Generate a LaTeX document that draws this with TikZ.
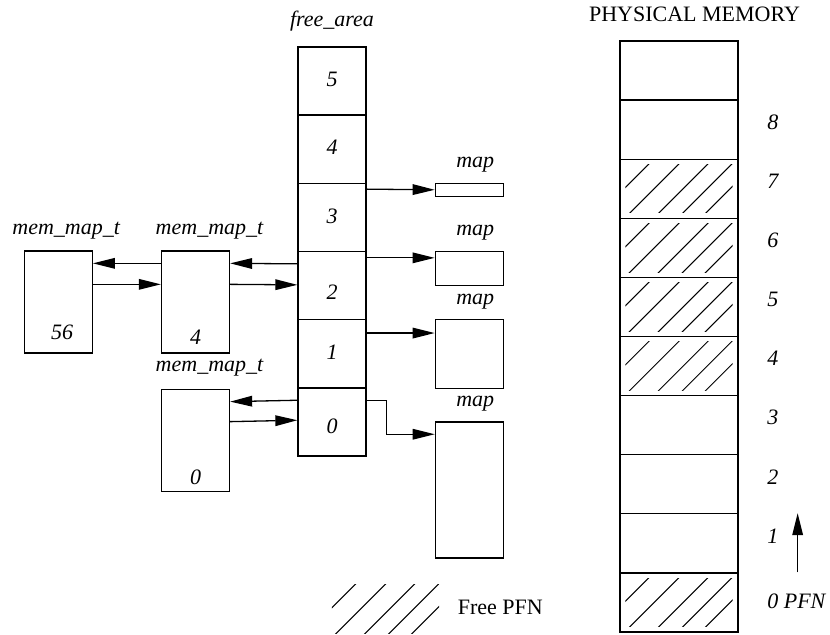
\documentclass[tikz,border=0pt]{standalone}
\usepackage{fontspec}
\setmainfont{Liberation Serif}
\usetikzlibrary{positioning,arrows.meta,calc}
\tikzstyle{slot} = [draw, minimum width=34pt, minimum height=34.1pt, inner sep=0pt]
\tikzstyle{memmap} = [draw, minimum width=34pt, minimum height=51pt, inner sep=0pt]
\tikzstyle{mapbox} = [draw, minimum width=34pt, inner sep=0pt, anchor=north west]
\tikzstyle{pfnbox} = [draw, minimum width=59pt, minimum height=29.55pt, inner sep=0pt]
\tikzstyle{lab} = [font=\fontsize{11}{13}\selectfont\itshape, inner sep=0pt, text height=1.5ex, text depth=.25ex]
\tikzstyle{txt} = [font=\fontsize{11}{13}\selectfont, inner sep=0pt, text height=1.5ex, text depth=.25ex]
\tikzstyle{ptr} = [-{Triangle[length=11pt,width=5.3pt]}]

% diagonal hatching inside a box
\newcommand{\hatchbox}[1]{%
  \begin{scope}
    \clip ($(#1.north west)+(6,6)$) rectangle ($(#1.south east)+(-6,-6)$);
    \foreach \o in {35,65,94,118,141}
      \draw[line width=0.5pt] ($(#1.north west)+(\o,0)$) -- ++(-90,90);
  \end{scope}}

\begin{document}
\begin{tikzpicture}[x=0.5pt, y=-0.5pt, line width=0.65pt]
	\useasboundingbox (0,0) rectangle (830,635);
	
	% free area
	\begin{scope}[node distance=34.1pt]
	\node[slot] (f0) at (332,422) {};
	\foreach \k [count=\j] in {0,...,4}
		\node[slot, above of=f\k] (f\j) {};
	\end{scope}
	\foreach \k/\dy in {0/-3,1/0,2/-4,3/0,4/0,5/0}
		\node[lab] at ([yshift=\dy pt]f\k) {\k};
	\node[lab, above=8.5pt of f5] (fa) {free\_area};
	
	% mem_map_t lists
	\node[memmap] (mmB) at (195.5,302) {};
	\node[memmap, left=34pt of mmB] (mmA) {};
	\node[memmap, below=17.5pt of mmB] (mmC) {};
	\node[lab, above=6.5pt of mmA, xshift=4pt] {mem\_map\_t};
	\node[lab, above=6.5pt of mmB, xshift=7pt] {mem\_map\_t};
	\node[lab, above=7pt of mmC, xshift=7pt] {mem\_map\_t};
	\node[lab] at ([xshift=2pt, yshift=9.7pt]mmA.south) {56};
	\node[lab] at ([yshift=7.2pt]mmB.south) {4};
	\node[lab] at ([yshift=6.7pt]mmC.south) {0};
	
	\draw[ptr] ([yshift=-6.5pt]mmB.north west) -- ([yshift=-6.5pt]mmA.north east);
	\draw[ptr] ([yshift=-17pt]mmA.north east) -- ([yshift=-17pt]mmB.north west);
	\draw[ptr] ([yshift=-6.5pt]f2.north west) -- ([yshift=-6.5pt]mmB.north east);
	\draw[ptr] ([yshift=-17pt]mmB.north east) -- ([yshift=-17pt]f2.north west);
	\draw[ptr] ([yshift=-6.5pt]f0.north west) -- ([yshift=-6.5pt]mmC.north east);
	\draw[ptr] ([yshift=-16.5pt]mmC.north east) -- ([yshift=-16.5pt]f0.north west);
	
	% maps
	\node[mapbox, minimum height=6.5pt] (map3) at ([xshift=34pt]f3.north east) {};
	\node[mapbox, minimum height=17pt] (map2) at ([xshift=34pt]f2.north east) {};
	\node[mapbox, minimum height=34.5pt] (map1) at ([xshift=34pt]f1.north east) {};
	\node[mapbox, minimum height=68pt] (map0) at ([xshift=34pt, yshift=-17pt]f0.north east) {};
	\foreach \m in {0,...,3}
		\node[lab, above=6pt of map\m, xshift=3pt] {map};
	
	\draw[ptr] ([yshift=-3.25pt]f3.north east) -- (map3.west);
	\draw[ptr] ([yshift=-3.5pt]f2.north east) -- ([yshift=-3.5pt]map2.north west);
	\draw[ptr] ([yshift=-7pt]f1.north east) -- ([yshift=-7pt]map1.north west);
	\draw[ptr] ([yshift=-6.5pt]f0.north east) -- ++(20,0) |- ([yshift=-6.5pt]map0.north west);
	
	% physical memory
	\begin{scope}[node distance=29.55pt]
	\node[pfnbox] (p0) at (679,602.5) {};
	\foreach \k [count=\j] in {0,...,8}
		\node[pfnbox, above of=p\k] (p\j) {};
	\end{scope}
	\foreach \k in {0,4,5,6,7} {\hatchbox{p\k}}
	\foreach \k in {1,...,8}
		\node[lab, anchor=west] at ([xshift=14pt, yshift=3pt]p\k.east) {\k};
	\node[lab, anchor=west] (pfn) at ([xshift=14pt]p0.east) {0 PFN};
	\node[txt, above=7.75pt of p9, xshift=7.75pt] (pm) {PHYSICAL MEMORY};
	
	\coordinate (upS) at ([xshift=29.5pt]p0.north east);
	\coordinate (upE) at ([xshift=29.5pt]p1.north east);
	\draw[ptr] (upS) -- (upE);
	
	% legend
	\node[minimum width=59pt, minimum height=29.5pt, inner sep=0pt] (legend) at (385.5,609) {};
	\hatchbox{legend}
	\node[txt, right=6pt of legend] (free) {Free PFN};
\end{tikzpicture}
\end{document}
